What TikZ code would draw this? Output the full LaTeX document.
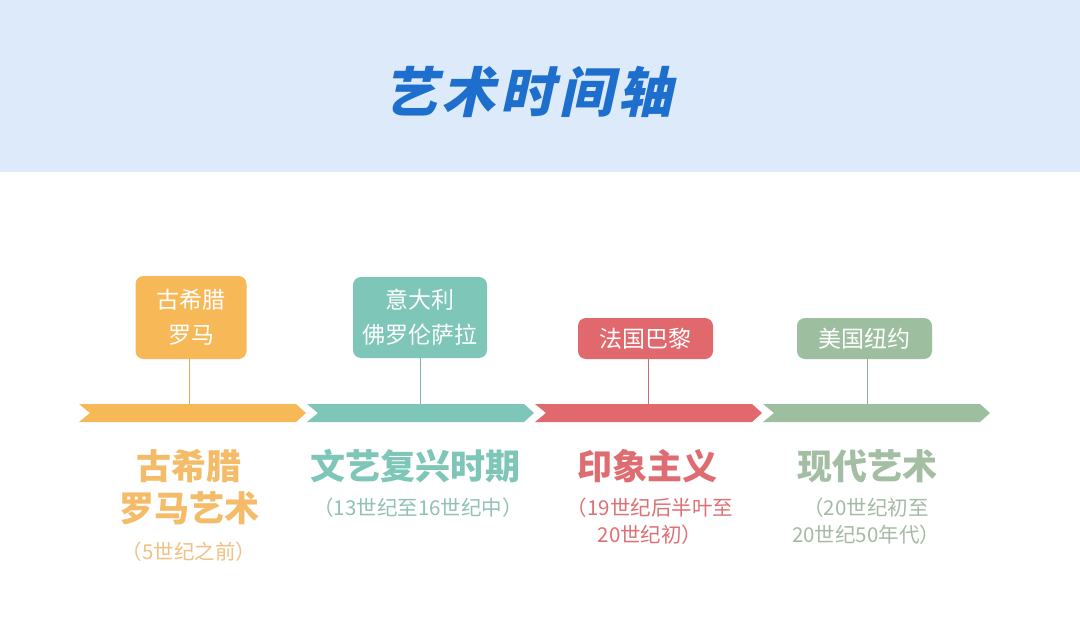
\documentclass[tikz,border=0pt]{standalone}
\usepackage{fontspec}
\setmainfont{Noto Sans CJK SC}
\newfontfamily\cjk{Noto Sans CJK SC}
\newfontfamily\cjktitle{Noto Sans CJK SC}[FakeSlant=0.22]
\definecolor{hdr}{RGB}{220,234,250}
\definecolor{ttl}{RGB}{30,110,205}
\definecolor{cO}{RGB}{247,185,88}
\definecolor{cT}{RGB}{125,198,184}
\definecolor{cR}{RGB}{225,104,108}
\definecolor{cG}{RGB}{158,190,160}
\definecolor{tO}{RGB}{244,188,104}
\definecolor{tT}{RGB}{126,198,184}
\definecolor{tR}{RGB}{222,108,113}
\definecolor{tG}{RGB}{164,190,164}
\definecolor{sO}{RGB}{242,192,130}
\definecolor{sT}{RGB}{145,192,182}
\definecolor{sR}{RGB}{222,112,116}
\definecolor{sG}{RGB}{165,185,165}
\tikzset{
  place/.style={rounded corners=8pt, inner sep=0pt, text=white, align=center,
    font=\cjk\fontsize{23}{35}\selectfont},
  era/.style={font=\cjk\bfseries\fontsize{35}{42}\selectfont, align=center, inner sep=0pt},
  period/.style={font=\cjk\fontsize{20.5}{27}\selectfont, align=center, inner sep=0pt},
  stem/.style={line width=0.6pt},
}
\newcommand{\seg}[2]{%
  \fill[#2] (#1,404) -- (#1+217,404) -- (#1+227,413) -- (#1+217,422) -- (#1,422) -- (#1+11,413) -- cycle;}
\begin{document}
\begin{tikzpicture}[x=1pt,y=-1pt]
\useasboundingbox (0,0) rectangle (1080,642);
\fill[white] (0,0) rectangle (1080,642);
\fill[hdr] (0,0) rectangle (1080,172);
\node[font=\cjktitle\bfseries\fontsize{54}{60}\selectfont, text=ttl, inner sep=0pt] (title) at (528,92) {艺\hspace{5pt}术\hspace{5pt}时\hspace{5pt}间\hspace{5pt}轴};
% timeline arrows
\seg{79}{cO}
\seg{307}{cT}
\seg{535}{cR}
\seg{763}{cG}
% boxes
\node[place, fill=cO, minimum width=111pt, minimum height=83pt] (b1) at (191,317.5) {古希腊\\罗马};
\node[place, fill=cT, minimum width=134pt, minimum height=81pt] (b2) at (420,317.5) {意大利\\佛罗伦萨拉};
\node[place, fill=cR, minimum width=135pt, minimum height=41pt] (b3) at (645.5,338.5) {法国巴黎};
\node[place, fill=cG, minimum width=135pt, minimum height=41pt] (b4) at (864.5,338.5) {美国纽约};
\coordinate (a1) at (189,404);
\coordinate (a2) at (420,404);
\coordinate (a3) at (648,404);
\coordinate (a4) at (867,404);
\draw[stem, draw=cO!70!gray] (b1.south -| a1) -- (a1);
\draw[stem, draw=cT!70!gray] (b2.south -| a2) -- (a2);
\draw[stem, draw=cR!70!gray] (b3.south -| a3) -- (a3);
\draw[stem, draw=cG!70!gray] (b4.south -| a4) -- (a4);
% labels
\node[era, text=tO] (e1) at (189,487) {古希腊\\罗马艺术};
\node[period, text=sO] (p1) at (189,552) {（5世纪之前）};
\node[era, text=tT] (e2) at (415,466) {文艺复兴时期};
\node[period, text=sT] (p2) at (418,508) {（13世纪至16世纪中）};
\node[era, text=tR] (e3) at (647,466) {印象主义};
\node[period, text=sR] (p3) at (650,521.5) {（19世纪后半叶至\\20世纪初）};
\node[era, text=tG] (e4) at (867,466) {现代艺术};
\node[period, text=sG] (p4) at (866,521.5) {（20世纪初至\\20世纪50年代）};
\end{tikzpicture}
\end{document}
